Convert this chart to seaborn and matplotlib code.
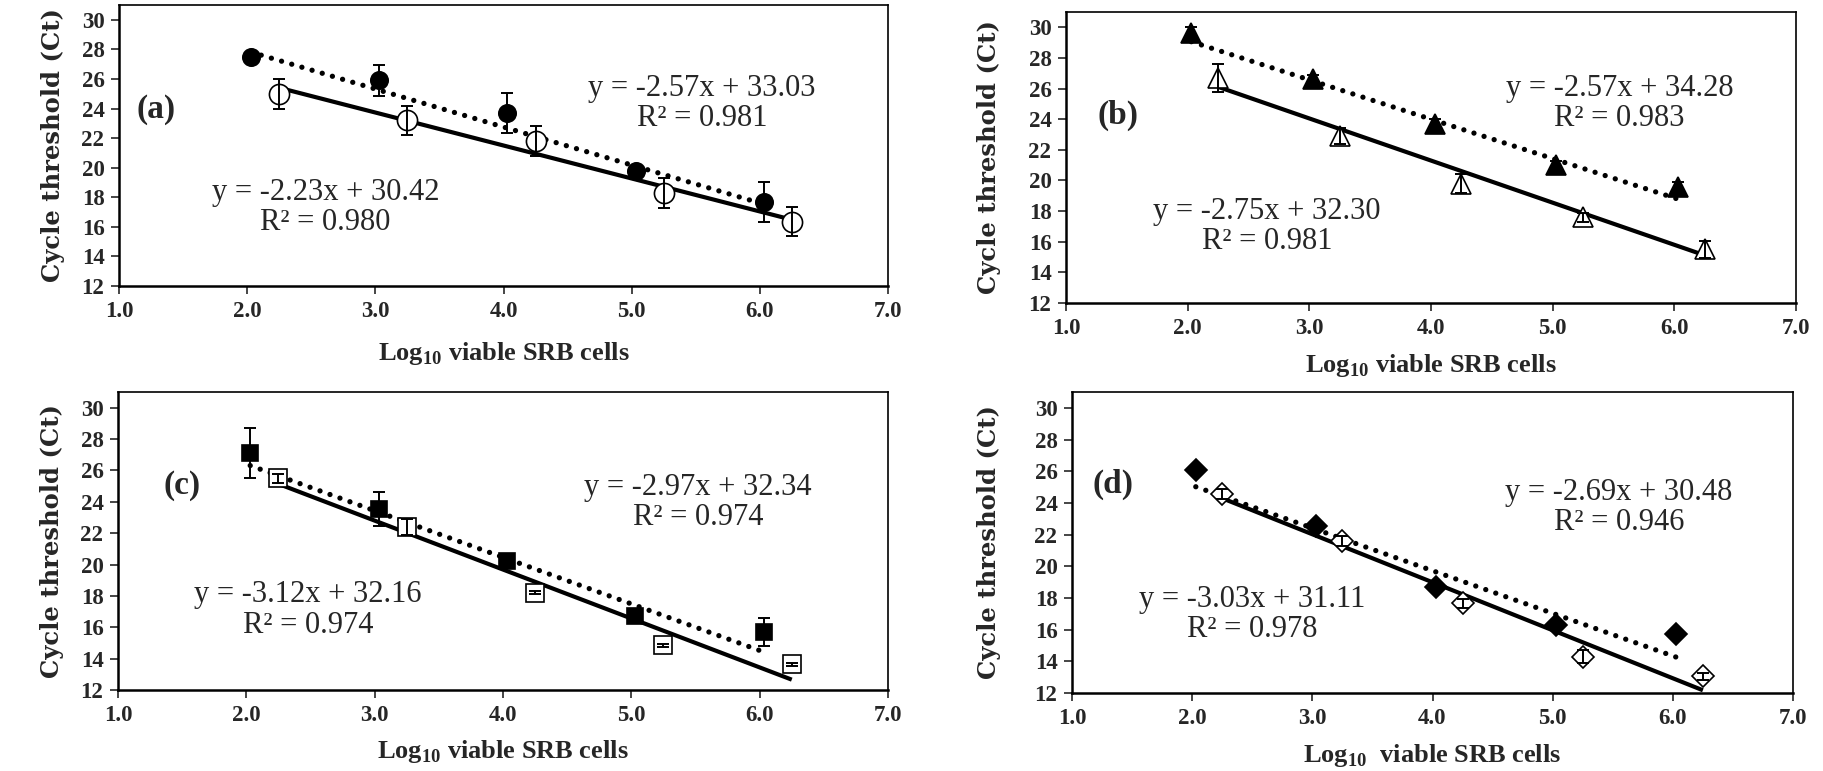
import matplotlib
matplotlib.use("Agg")
import matplotlib.pyplot as plt
import numpy as np
import pandas as pd
import seaborn as sns

# x positions (log10 viable SRB cells)
x_filled = [2.03, 3.03, 4.03, 5.03, 6.03]
x_open = [2.25, 3.25, 4.25, 5.25, 6.25]

# panel (a) circles
a_filled = [27.5, 25.9, 23.7, 19.8, 17.7]
a_filled_err = [0.2, 1.05, 1.35, 0.3, 1.35]
a_open = [25.0, 23.2, 21.8, 18.3, 16.35]
a_open_err = [1.0, 1.0, 1.0, 1.0, 1.0]
a_fit = [(-2.57, 33.03, 0.981), (-2.23, 30.42, 0.980)]

# panel (b) triangles
b_filled = [29.6, 26.6, 23.7, 21.0, 19.6]
b_filled_err = [0.4, 0.3, 0.3, 0.3, 0.3]
b_open = [26.7, 22.9, 19.8, 17.6, 15.5]
b_open_err = [0.9, 0.55, 0.65, 0.3, 0.55]
b_fit = [(-2.57, 34.28, 0.983), (-2.75, 32.30, 0.981)]

# panel (c) squares
c_filled = [27.1, 23.55, 20.2, 16.7, 15.7]
c_filled_err = [1.6, 1.1, 0.3, 0.2, 0.9]
c_open = [25.5, 22.4, 18.2, 14.85, 13.65]
c_open_err = [0.3, 0.5, 0.1, 0.1, 0.1]
c_fit = [(-2.97, 32.34, 0.974), (-3.12, 32.16, 0.974)]

# panel (d) diamonds
d_filled = [26.05, 22.55, 18.7, 16.3, 15.7]
d_filled_err = [0.2, 0.2, 0.2, 0.2, 0.2]
d_open = [24.55, 21.6, 17.65, 14.3, 13.05]
d_open_err = [0.3, 0.3, 0.3, 0.4, 0.2]
d_fit = [(-2.69, 30.48, 0.946), (-3.03, 31.11, 0.978)]

sns.set_theme(style="ticks")
plt.rcParams["font.family"] = ["Liberation Serif", "DejaVu Serif"]
plt.rcParams["mathtext.fontset"] = "custom"
plt.rcParams["mathtext.rm"] = "Liberation Serif:bold"
plt.rcParams["mathtext.bf"] = "Liberation Serif:bold"

W, H = 1823, 771
fig = plt.figure(figsize=(W / 100, H / 100), dpi=100)


def box(l, t, r, b):
    return [l / W, 1 - b / H, (r - l) / W, (b - t) / H]


panels = [
    dict(tag="(a)", rect=box(119, 5, 888, 286), marker="o", ms=(12.5, 14.5),
         filled=a_filled, ferr=a_filled_err, open=a_open, oerr=a_open_err, fit=a_fit,
         tagpos=(1.29, 23.95), up=(5.55, 24.36), low=(2.61, 17.28),
         xl="Log$_{10}$ viable SRB cells", xpad=13, ypad=12),
    dict(tag="(b)", rect=box(1066, 12, 1796, 303), marker="^", ms=(14, 15),
         filled=b_filled, ferr=b_filled_err, open=b_open, oerr=b_open_err, fit=b_fit,
         tagpos=(1.43, 24.23), up=(5.55, 25.0), low=(2.65, 17.0),
         xl="Log$_{10}$ viable SRB cells", xpad=10, ypad=20),
    dict(tag="(c)", rect=box(118, 392, 888, 690), marker="s", ms=(11, 13),
         filled=c_filled, ferr=c_filled_err, open=c_open, oerr=c_open_err, fit=c_fit,
         tagpos=(1.5, 25.05), up=(5.52, 23.98), low=(2.48, 17.1),
         xl="Log$_{10}$ viable SRB cells", xpad=9, ypad=12),
    dict(tag="(d)", rect=box(1072, 392, 1793, 693), marker="D", ms=(11, 11),
         filled=d_filled, ferr=d_filled_err, open=d_open, oerr=d_open_err, fit=d_fit,
         tagpos=(1.34, 25.14), up=(5.55, 23.7), low=(2.50, 16.94),
         xl="Log$_{10}$  viable SRB cells", xpad=10, ypad=24),
]

for p in panels:
    ax = fig.add_axes(p["rect"])
    df = pd.DataFrame({
        "x": x_filled + x_open,
        "ct": p["filled"] + p["open"],
        "err": p["ferr"] + p["oerr"],
        "group": ["filled"] * 5 + ["open"] * 5,
    })

    # trend lines from the fitted equations, spanning each series
    for (slope, icpt, _), xs, dotted in zip(p["fit"], [x_filled, x_open], [True, False]):
        xx = np.array([xs[0], xs[-1]])
        line = pd.DataFrame({"x": xx, "y": slope * xx + icpt})
        if dotted:
            sns.lineplot(data=line, x="x", y="y", ax=ax, color="black",
                         linestyle=(0, (0.01, 2.0)), linewidth=3.8,
                         dash_capstyle="round", zorder=2)
        else:
            sns.lineplot(data=line, x="x", y="y", ax=ax, color="black",
                         linewidth=3.0, solid_capstyle="butt", zorder=2)

    for grp, face, ms in [("filled", "black", p["ms"][0]), ("open", "white", p["ms"][1])]:
        sub = df[df["group"] == grp]
        ax.plot(sub["x"], sub["ct"], linestyle="none", marker=p["marker"],
                markersize=ms, markerfacecolor=face, markeredgecolor="black",
                markeredgewidth=1.2, zorder=3)
        ax.errorbar(sub["x"], sub["ct"], yerr=sub["err"], fmt="none",
                    ecolor="black", elinewidth=1.4, capsize=4, capthick=1.4, zorder=4)

    ax.set_xlim(1, 7)
    ax.set_ylim(12, 31)
    ax.set_xticks(np.arange(1, 7.01, 1))
    ax.set_xticklabels([f"{v:.1f}" for v in np.arange(1, 7.01, 1)])
    ax.set_yticks(np.arange(12, 30.1, 2))
    ax.tick_params(direction="out", length=5.5, width=1.2, labelsize=16.5, pad=5)
    for lab in ax.get_xticklabels() + ax.get_yticklabels():
        lab.set_fontweight("bold")
    for side in ["left", "bottom"]:
        ax.spines[side].set_linewidth(1.8)
    for side in ["top", "right"]:
        ax.spines[side].set_linewidth(1.2)
    for s in ax.spines.values():
        s.set_color("black")

    ax.set_xlabel(p["xl"], fontsize=19, fontweight="bold", labelpad=p["xpad"])
    ax.set_ylabel("Cycle threshold (Ct)", fontsize=17.5, fontweight="bold",
                  family="DejaVu Serif", labelpad=p["ypad"])

    ax.text(*p["tagpos"], p["tag"], fontsize=24, fontweight="bold", ha="center", va="center")
    (s1, i1, r1), (s2, i2, r2) = p["fit"]
    ax.text(*p["up"], f"y = {s1:.2f}x + {i1:.2f}\nR\u00b2 = {r1:.3f}", fontsize=22,
            ha="center", va="center", multialignment="center", linespacing=1.05)
    ax.text(*p["low"], f"y = {s2:.2f}x + {i2:.2f}\nR\u00b2 = {r2:.3f}", fontsize=22,
            ha="center", va="center", multialignment="center", linespacing=1.05)

fig.savefig("out.png", dpi=100)
